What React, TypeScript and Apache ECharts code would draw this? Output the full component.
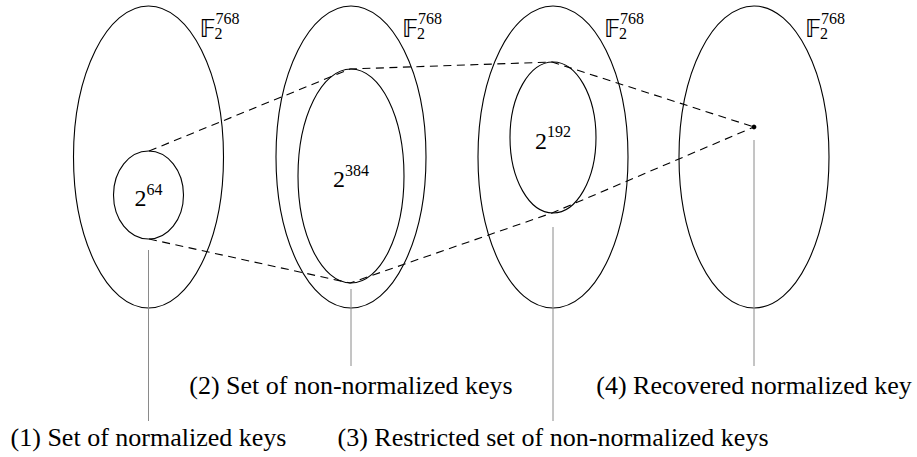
import React, { useEffect, useRef } from "react";
import * as echarts from "echarts";

// Diagram "data" — one entry per stage
const stageLabels = [
  "(1) Set of normalized keys",
  "(2) Set of non-normalized keys",
  "(3) Restricted set of non-normalized keys",
  "(4) Recovered normalized key",
];
const stageX = [148.5, 351, 553, 754];
const outerCy = 157;
const outerRx = 75;
const outerRy = 151;
const subsetExponents = ["64", "384", "192", ""];
const innerCy = [195, 176, 137.5, 127];
const innerRx = [35, 53, 43, 0];
const innerRy = [44, 107, 75.5, 0];
const fieldSubscript = "2";
const fieldExponent = "768";
const topBoundary = [
  [149, 151],
  [350, 69],
  [552, 62],
  [754, 127],
];
const bottomBoundary = [
  [149, 239],
  [350, 283],
  [552, 213],
  [754, 127],
];
const leaderTop = [250, 289, 227, 140];
const leaderBottom = [421, 366, 421, 366];
const labelY = [437, 385, 437, 385];

const W = 917;
const H = 457;
const SERIF = '"Liberation Serif", "Times New Roman", serif';

function renderItem(params: any, api: any) {
  const i = api.value(2);
  const [cx, cy] = api.coord([stageX[i], outerCy]);
  const [orx, ory] = api.size([outerRx, outerRy]);
  const [ix, iy] = api.coord([stageX[i], innerCy[i]]);
  const [irx, iry] = api.size([innerRx[i], innerRy[i]]);
  const [, lt] = api.coord([stageX[i], leaderTop[i]]);
  const [, lb] = api.coord([stageX[i], leaderBottom[i]]);
  const [, ly] = api.coord([stageX[i], labelY[i]]);
  const children: any[] = [];
  children.push({
    type: "ellipse",
    shape: { cx, cy, rx: orx, ry: ory },
    style: { fill: "none", stroke: "#000", lineWidth: 1.1 },
  });
  if (innerRx[i] > 0) {
    children.push({
      type: "ellipse",
      shape: { cx: ix, cy: iy, rx: irx, ry: iry },
      style: { fill: "none", stroke: "#000", lineWidth: 1.1 },
    });
    const exp = subsetExponents[i];
    const baseW = 12;
    const expW = exp.length * 8;
    const left = ix - (baseW + expW) / 2;
    children.push({
      type: "text",
      style: {
        text: "2",
        x: left,
        y: iy + 3,
        font: `24px ${SERIF}`,
        fill: "#000",
        align: "left",
        verticalAlign: "middle",
      },
    });
    children.push({
      type: "text",
      style: {
        text: exp,
        x: left + baseW,
        y: iy - 6,
        font: `16px ${SERIF}`,
        lineHeight: 13,
        fill: "#000",
        align: "left",
        verticalAlign: "middle",
      },
    });
  } else {
    children.push({
      type: "circle",
      shape: { cx: ix, cy: iy, r: 2.4 },
      style: { fill: "#000" },
    });
  }
  // field label F_2^768
  const fx = cx + 51;
  children.push({
    type: "text",
    style: {
      text: "\u{1D53D}",
      x: fx,
      y: 29,
      font: '24px "DejaVu Sans", "DejaVu Serif", sans-serif',
      lineHeight: 20,
      fill: "#000",
      align: "left",
      verticalAlign: "middle",
    },
  });
  children.push({
    type: "text",
    style: {
      text: fieldSubscript,
      x: fx + 15,
      y: 33.5,
      font: `16px ${SERIF}`,
      lineHeight: 12,
      fill: "#000",
      align: "left",
      verticalAlign: "middle",
    },
  });
  children.push({
    type: "text",
    style: {
      text: fieldExponent,
      x: fx + 16,
      y: 18,
      font: `16px ${SERIF}`,
      lineHeight: 12,
      fill: "#000",
      align: "left",
      verticalAlign: "middle",
    },
  });
  // leader line
  children.push({
    type: "line",
    shape: { x1: ix, y1: lt, x2: ix, y2: lb },
    style: { stroke: "#8a8a8a", lineWidth: 1 },
  });
  children.push({
    type: "text",
    style: {
      text: stageLabels[i],
      x: ix,
      y: ly,
      font: `26px ${SERIF}`,
      fill: "#000",
      align: "center",
      verticalAlign: "middle",
    },
  });
  return { type: "group", children };
}

export default function App() {
  const ref = useRef<HTMLDivElement>(null);
  useEffect(() => {
    if (!ref.current) return;
    const chart = echarts.init(ref.current, undefined, { renderer: "svg" });
    chart.setOption({
      animation: false,
      backgroundColor: "#fff",
      grid: { left: 0, right: 0, top: 0, bottom: 0 },
      xAxis: { type: "value", min: 0, max: W, show: false },
      yAxis: { type: "value", min: 0, max: H, inverse: true, show: false },
      series: [
        {
          type: "custom",
          renderItem,
          silent: true,
          clip: false,
          data: stageX.map((x, i) => [x, innerCy[i], i]),
          encode: { x: 0, y: 1 },
        },
        {
          type: "line",
          data: topBoundary,
          symbol: "none",
          silent: true,
          lineStyle: { color: "#000", width: 1.1, type: [8, 5.5] },
        },
        {
          type: "line",
          data: bottomBoundary,
          symbol: "none",
          silent: true,
          lineStyle: { color: "#000", width: 1.1, type: [8, 5.5] },
        },
      ],
    });
    return () => chart.dispose();
  }, []);
  return (
    <div
      ref={ref}
      style={{ position: "fixed", left: 0, top: 0, width: W, height: H }}
    />
  );
}
